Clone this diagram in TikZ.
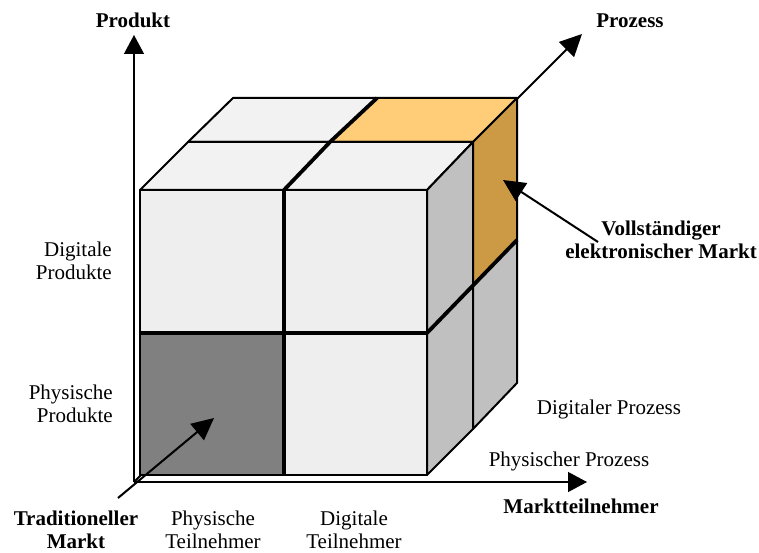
\documentclass[tikz,border=0pt]{standalone}
\usepackage{fontspec}
\setmainfont{Liberation Serif}
\usetikzlibrary{arrows.meta}
\definecolor{topgray}{HTML}{F2F2F2}
\definecolor{frontgray}{HTML}{EEEEEE}
\definecolor{sidegray}{HTML}{C0C0C0}
\definecolor{darkfill}{HTML}{808080}
\definecolor{orangetop}{HTML}{FFCC77}
\definecolor{orangeside}{HTML}{CC9944}
\begin{document}
\begin{tikzpicture}[x=1pt,y=-1pt,
  face/.style={draw=black, line width=2pt, line join=round},
  divider/.style={line width=3.8pt, line join=round},
  axisarrow/.style={line width=1.3pt, -{Triangle[width=20pt,length=19pt]}},
  pointer/.style={line width=2pt, -{Triangle[width=21pt,length=22pt]}},
  lab/.style={font=\fontsize{21}{23}\selectfont, align=center, inner sep=0pt, anchor=base},
  blab/.style={lab, font=\fontsize{21}{23}\selectfont\bfseries},
]
\useasboundingbox (0,0) rectangle (759,553);

% axes
\coordinate (O) at (134,482);
\coordinate (Ptip) at (134,35);
\coordinate (Mtip) at (587,482);
\coordinate (Ztip) at (582,34);
\draw[axisarrow] (O) -- (Ptip);
\draw[axisarrow] (O) -- (Mtip);
\draw[pointer] (O) -- (Ztip);

% front faces
\filldraw[face, fill=frontgray] (140,190) rectangle (284,333);
\filldraw[face, fill=frontgray] (284,190) rectangle (427,333);
\filldraw[face, fill=darkfill] (140,333) rectangle (284,475);
\filldraw[face, fill=frontgray] (284,333) rectangle (427,475);
% top faces
\filldraw[face, fill=topgray] (233,98) -- (377,98) -- (330,142) -- (188,142) -- cycle;
\filldraw[face, fill=orangetop] (377,98) -- (517,98) -- (473,142) -- (330,142) -- cycle;
\filldraw[face, fill=topgray] (188,142) -- (330,142) -- (284,190) -- (140,190) -- cycle;
\filldraw[face, fill=topgray] (330,142) -- (473,142) -- (427,190) -- (284,190) -- cycle;
% side faces
\filldraw[face, fill=sidegray] (427,190) -- (473,142) -- (473,286) -- (427,333) -- cycle;
\filldraw[face, fill=orangeside] (473,142) -- (517,98) -- (517,240) -- (473,286) -- cycle;
\filldraw[face, fill=sidegray] (427,333) -- (473,286) -- (473,429) -- (427,475) -- cycle;
\filldraw[face, fill=sidegray] (473,286) -- (517,240) -- (517,383) -- (473,429) -- cycle;
% dividers
\draw[divider] (377,98) -- (330,142) -- (284,190) -- (284,475);
\draw[divider] (140,333) -- (427,333) -- (517,240);

% pointers
\coordinate (Ttail) at (118,498);
\coordinate (Ttip) at (214,418);
\coordinate (Vtail) at (598,242);
\coordinate (Vtip) at (503,180);
\draw[pointer] (Ttail) -- (Ttip);
\draw[pointer] (Vtail) -- (Vtip);

% labels (multi-line nodes: base = last line)
\node[blab] (produkt) at (133,28) {Produkt};
\node[blab] (prozess) at (630,28) {Prozess};
\node[blab] (voll) at (661,258) {Vollständiger\\elektronischer Markt};
\node[lab, align=right, anchor=base east] (dp) at (112,279) {Digitale\\Produkte};
\node[lab, align=right, anchor=base east] (pp) at (113,422) {Physische\\Produkte};
\node[blab] (trad) at (76,548) {Traditioneller\\Markt};
\node[lab] (pt) at (213,548) {Physische\\Teilnehmer};
\node[lab] (dt) at (354,548) {Digitale\\Teilnehmer};
\node[lab] (dproz) at (609,414) {Digitaler Prozess};
\node[lab] (pproz) at (569,466) {Physischer Prozess};
\node[blab] (mt) at (581,513) {Marktteilnehmer};
\end{tikzpicture}
\end{document}
